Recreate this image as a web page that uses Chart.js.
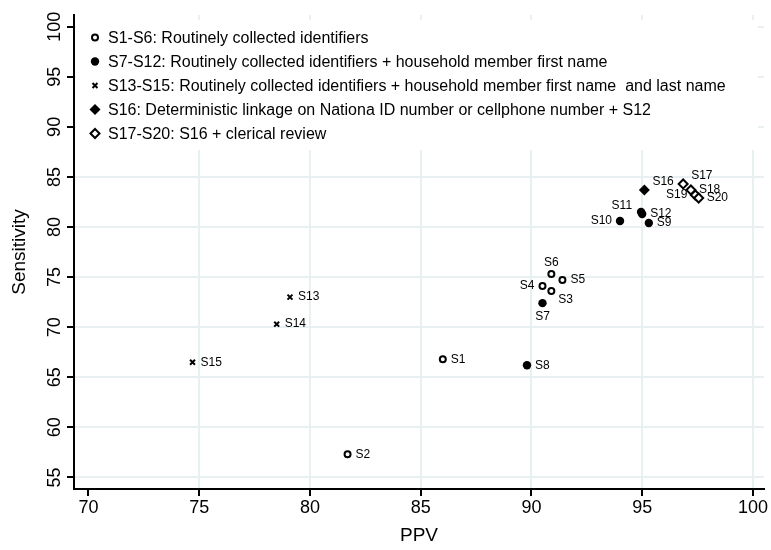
<!DOCTYPE html>
<html>
<head>
<meta charset="utf-8">
<script src="https://cdn.jsdelivr.net/npm/chart.js@4/dist/chart.umd.min.js"></script>
<style>
  html, body { margin: 0; padding: 0; background: #fff; }
  #wrap { width: 771px; height: 550px; position: relative; }
</style>
</head>
<body>
<div id="wrap"><canvas id="chart"></canvas></div>
<script>
// strategies S1..S20
const names = ["S1", "S2", "S3", "S4", "S5", "S6", "S7", "S8", "S9", "S10",
  "S11", "S12", "S13", "S14", "S15", "S16", "S17", "S18", "S19", "S20"];
const ppv = [86.0, 81.7, 90.9, 90.5, 91.4, 90.9, 90.5, 89.8, 95.3, 94.0,
  94.95, 95.0, 79.1, 78.5, 74.7, 95.1, 96.85, 97.2, 97.4, 97.55];
const sensitivity = [66.8, 57.3, 73.6, 74.1, 74.7, 75.3, 72.4, 66.2, 80.4, 80.6,
  81.5, 81.3, 73.0, 70.3, 66.5, 83.7, 84.3, 83.7, 83.2, 82.9];
const groupOf = [0, 0, 0, 0, 0, 0, 1, 1, 1, 1, 1, 1, 2, 2, 2, 3, 4, 4, 4, 4];
const groupLabels = [
  "S1-S6: Routinely collected identifiers",
  "S7-S12: Routinely collected identifiers + household member first name",
  "S13-S15: Routinely collected identifiers + household member first name  and last name",
  "S16: Deterministic linkage on Nationa ID number or cellphone number + S12",
  "S17-S20: S16 + clerical review",
];
const xTicks = [70, 75, 80, 85, 90, 95, 100];
const yTicks = [55, 60, 65, 70, 75, 80, 85, 90, 95, 100];

// where each marker label sits (clock position, like Stata mlabvpos)
const labelClock = [3, 3, 4, 9, 3, 12, 6, 3, 3, 9, 11, 3, 3, 3, 3, 2, 2, 3, 9, 3];
const clockOffset = {
  3: [8, 0, "left"], 4: [7, 9, "left"], 9: [-8, 0, "right"], 12: [0, -11, "center"],
  6: [0, 14, "center"], 2: [8, -8, "left"], 11: [-9, -6, "right"],
};

const markerStyles = [
  { pointStyle: "circle", pointRadius: 3, backgroundColor: "#fff", borderColor: "#000", borderWidth: 2 },
  { pointStyle: "circle", pointRadius: 4.2, backgroundColor: "#000", borderColor: "#000", borderWidth: 0 },
  { pointStyle: "crossRot", pointRadius: 3.5, backgroundColor: "#000", borderColor: "#000", borderWidth: 2 },
  { pointStyle: "rectRot", pointRadius: 5.5, backgroundColor: "#000", borderColor: "#000", borderWidth: 0 },
  { pointStyle: "rectRot", pointRadius: 4.5, backgroundColor: "#fff", borderColor: "#000", borderWidth: 2 },
];

const FONT = "'Liberation Sans', Arial, sans-serif";
const gridColor = "#e8f0f2";

const datasets = groupLabels.map((label, g) => {
  const pts = [];
  names.forEach((n, i) => {
    if (groupOf[i] === g) pts.push({ x: ppv[i], y: sensitivity[i], name: n, clock: labelClock[i] });
  });
  return Object.assign({ label: label, data: pts, pointHoverRadius: 0 }, markerStyles[g]);
});

// white legend box inside the plot region, covering the grid
const legendBox = {
  id: "legendBox",
  beforeDatasetsDraw(chart) {
    const ctx = chart.ctx;
    const { left, top, right } = chart.chartArea;
    ctx.save();
    ctx.fillStyle = "#fff";
    ctx.fillRect(left + 2, top + 5, right - left - 8, 130);
    ctx.font = "16px " + FONT;
    ctx.textBaseline = "middle";
    chart.data.datasets.forEach((ds, i) => {
      const y = top + 22.5 + i * 24;
      ctx.fillStyle = ds.backgroundColor;
      ctx.strokeStyle = ds.borderColor;
      ctx.lineWidth = ds.borderWidth;
      Chart.helpers.drawPoint(ctx, { pointStyle: ds.pointStyle, radius: ds.pointRadius, borderWidth: ds.borderWidth, rotation: 0 }, left + 21, y);
      ctx.fillStyle = "#000";
      ctx.fillText(ds.label, left + 34, y + 1);
    });
    ctx.restore();
  },
};

// marker labels S1..S20
const markerLabels = {
  id: "markerLabels",
  afterDatasetsDraw(chart) {
    const ctx = chart.ctx;
    ctx.save();
    ctx.font = "12px " + FONT;
    ctx.fillStyle = "#000";
    ctx.textBaseline = "middle";
    chart.data.datasets.forEach((ds, di) => {
      chart.getDatasetMeta(di).data.forEach((el, j) => {
        const p = ds.data[j];
        const off = clockOffset[p.clock];
        ctx.textAlign = off[2];
        ctx.fillText(p.name, el.x + off[0], el.y + off[1]);
      });
    });
    ctx.restore();
  },
};

new Chart(document.getElementById("chart"), {
  type: "scatter",
  data: { datasets: datasets },
  plugins: [legendBox, markerLabels],
  options: {
    responsive: true,
    maintainAspectRatio: false,
    animation: false,
    devicePixelRatio: 1,
    layout: { padding: { top: 15, right: 7, left: 0, bottom: 0 } },
    plugins: { legend: { display: false }, tooltip: { enabled: false } },
    scales: {
      x: {
        type: "linear",
        min: 69.35,
        max: 100.5,
        afterBuildTicks: (axis) => { axis.ticks = xTicks.map((v) => ({ value: v })); },
        afterFit: (scale) => { scale.height = 61; },
        grid: {
          color: (c) => (c.tick && c.tick.value === 70 ? "rgba(0,0,0,0)" : gridColor),
          lineWidth: 2,
          tickColor: "#000",
          tickLength: 7,
          tickWidth: 2,
        },
        border: { color: "#000", width: 2 },
        ticks: { color: "#000", font: { family: FONT, size: 18 }, padding: 1, maxRotation: 0 },
        title: { display: true, text: "PPV", color: "#000", font: { family: FONT, size: 19 }, padding: { top: 0, bottom: 2.5 } },
      },
      y: {
        type: "linear",
        min: 53.84,
        max: 101.17,
        afterBuildTicks: (axis) => { axis.ticks = yTicks.map((v) => ({ value: v })); },
        afterFit: (scale) => { scale.width = 74; },
        grid: {
          color: gridColor,
          lineWidth: 2,
          tickColor: "#000",
          tickLength: 7,
          tickWidth: 2,
        },
        border: { color: "#000", width: 2 },
        ticks: { color: "#000", font: { family: FONT, size: 18 }, padding: -3, minRotation: 90, maxRotation: 90, crossAlign: "center" },
        title: { display: true, text: "Sensitivity", color: "#000", font: { family: FONT, size: 19 }, padding: { top: 8.5, bottom: 0 } },
      },
    },
  },
});
</script>
</body>
</html>
